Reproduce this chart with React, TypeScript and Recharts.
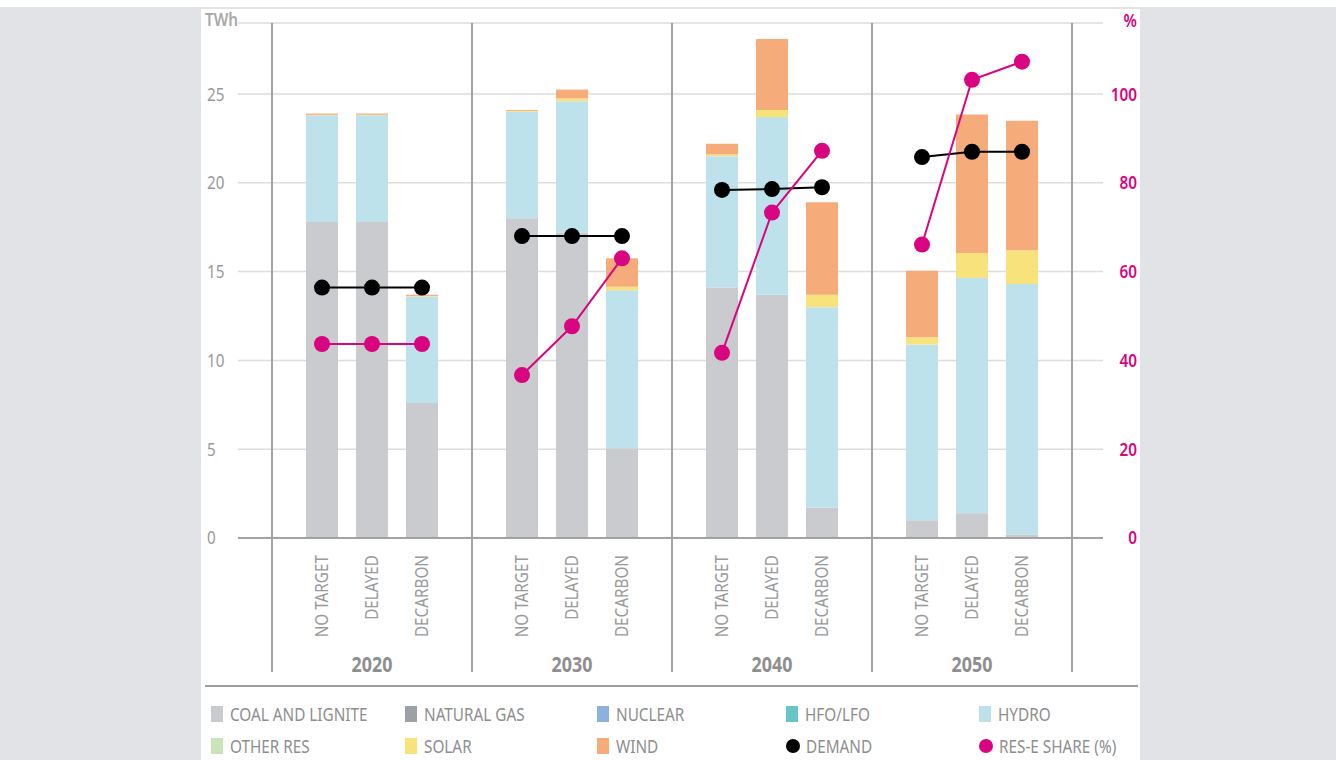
import React from 'react';
import { ComposedChart, Bar, Line, XAxis, YAxis, CartesianGrid } from 'recharts';

const years = ['2020', '2030', '2040', '2050'];
const scenarios = ['NO TARGET', 'DELAYED', 'DECARBON'];

// TWh per scenario, in order 2020 (NT, DEL, DEC), 2030 ..., 2050 ...
const coal = [17.8, 17.8, 7.6, 18.0, 17.2, 5.05, 14.1, 13.7, 1.7, 1.0, 1.4, 0.2];
const naturalGas = [0, 0, 0, 0, 0, 0, 0, 0, 0, 0, 0, 0];
const nuclear = [0, 0, 0, 0, 0, 0, 0, 0, 0, 0, 0, 0];
const hfoLfo = [0, 0, 0, 0, 0, 0, 0, 0, 0, 0, 0, 0];
const hydro = [6.0, 6.0, 6.0, 6.0, 7.4, 8.9, 7.4, 10.0, 11.3, 9.9, 13.25, 14.1];
const otherRes = [0, 0, 0, 0, 0, 0, 0, 0, 0, 0, 0, 0];
const solar = [0.03, 0.03, 0.03, 0.05, 0.15, 0.2, 0.1, 0.4, 0.7, 0.4, 1.4, 1.9];
const wind = [0.07, 0.07, 0.07, 0.05, 0.5, 1.6, 0.6, 4.0, 5.2, 3.75, 7.8, 7.3];
const demand = [14.1, 14.1, 14.1, 17.0, 17.0, 17.0, 19.6, 19.65, 19.75, 21.45, 21.75, 21.75];
const resShare = [43.7, 43.7, 43.7, 36.7, 47.7, 63.0, 41.7, 73.3, 87.2, 66.1, 103.2, 107.3];

const leftTicks = [0, 5, 10, 15, 20, 25];
const rightTicks = [0, 20, 40, 60, 80, 100];

const stackSeries = [
  { key: 'coal', label: 'COAL AND LIGNITE', color: '#c9cbce', values: coal },
  { key: 'gas', label: 'NATURAL GAS', color: '#9ba1a6', values: naturalGas },
  { key: 'nuclear', label: 'NUCLEAR', color: '#8db0df', values: nuclear },
  { key: 'hfo', label: 'HFO/LFO', color: '#6ac6c6', values: hfoLfo },
  { key: 'hydro', label: 'HYDRO', color: '#bde2ec', values: hydro },
  { key: 'other', label: 'OTHER RES', color: '#c9e6bb', values: otherRes },
  { key: 'solar', label: 'SOLAR', color: '#f8e27c', values: solar },
  { key: 'wind', label: 'WIND', color: '#f6ab7a', values: wind },
];

const DEMAND_COLOR = '#000000';
const RES_COLOR = '#d9047f';
const TEXT_GRAY = '#9a9a9a';
const LINE_GRAY = '#a3a3a3';
const FONT = "'Noto Sans', 'Open Sans', sans-serif";
const STRETCH = 'condensed';
// no condensed face is installed, so squeeze the glyphs a little instead
const SQUEEZE = 0.85;

// one row per bar, with an empty spacer row between the year groups
const rows: any[] = [];
years.forEach((year, g) => {
  if (g > 0) rows.push({ name: '', year, spacer: true });
  scenarios.forEach((s, k) => {
    const i = g * 3 + k;
    const row: any = { name: s, year, demand: demand[i], res: resShare[i] };
    stackSeries.forEach((ser) => (row[ser.key] = ser.values[i]));
    rows.push(row);
  });
});

const CHART_W = 1336;
const CHART_H = 680;
const TOP = 23;
const PLOT_LEFT = 238;
const PLOT_RIGHT = 1103;
const LEFT_AXIS_W = 30;
const RIGHT_AXIS_W = 40;
const PAD_L = 59;
const PAD_R = 56;
const BAND = (PLOT_RIGHT - PLOT_LEFT - PAD_L - PAD_R) / rows.length;

const sepLine = (x: number, y1: number, y2: number, key: string) => (
  <line key={key} x1={x} x2={x} y1={y1} y2={y2} stroke={LINE_GRAY} strokeWidth={2} />
);

const ScenarioTick = (props: any) => {
  const { x, y, index } = props;
  const row = rows[index];
  if (!row) return null;
  const parts: any[] = [];
  const bottom = y + 134;
  if (row.spacer) parts.push(sepLine(x, TOP, bottom, 's'));
  if (index === 0) parts.push(sepLine(x - BAND, TOP, bottom, 'l'));
  if (index === rows.length - 1) parts.push(sepLine(x + BAND, TOP, bottom, 'r'));
  if (!row.spacer) {
    parts.push(
      <text
        key="t"
        transform={`translate(${x},${y + 17}) rotate(-90) scale(${SQUEEZE},1)`}
        textAnchor="end"
        dy="0.36em"
        fill={TEXT_GRAY}
        style={{ fontFamily: FONT, fontStretch: STRETCH, fontSize: 18 }}
      >
        {row.name}
      </text>
    );
  }
  if (row.name === 'DELAYED') {
    parts.push(
      <text
        key="y"
        transform={`translate(${x},${y + 134}) scale(${SQUEEZE},1)`}
        textAnchor="middle"
        fill="#8e8e8e"
        style={{ fontFamily: FONT, fontStretch: STRETCH, fontSize: 21, fontWeight: 700 }}
      >
        {row.year}
      </text>
    );
  }
  return <g>{parts}</g>;
};

const LeftTick = (props: any) => (
  <text
    transform={`translate(${props.x - 31},${props.y}) scale(${SQUEEZE},1)`}
    dy="0.36em"
    textAnchor="start"
    fill={TEXT_GRAY}
    style={{ fontFamily: FONT, fontStretch: STRETCH, fontSize: 18 }}
  >
    {props.payload.value}
  </text>
);

const RightTick = (props: any) => (
  <text
    transform={`translate(${props.x + 34},${props.y}) scale(${SQUEEZE},1)`}
    dy="0.36em"
    textAnchor="end"
    fill={RES_COLOR}
    style={{ fontFamily: FONT, fontStretch: STRETCH, fontSize: 18, fontWeight: 600 }}
  >
    {props.payload.value}
  </text>
);

const legendItems = [
  ...stackSeries.map((s) => ({ label: s.label, color: s.color, dot: false })),
  { label: 'DEMAND', color: DEMAND_COLOR, dot: true },
  { label: 'RES-E SHARE (%)', color: RES_COLOR, dot: true },
];
const legendOrder = ['COAL AND LIGNITE', 'NATURAL GAS', 'NUCLEAR', 'HFO/LFO', 'HYDRO', 'OTHER RES', 'SOLAR', 'WIND', 'DEMAND', 'RES-E SHARE (%)'];
const legendCols = [211, 405, 597, 786, 979];

const App: React.FC = () => {
  return (
    <div style={{ position: 'absolute', left: 0, top: 0, width: 1336, height: 760, background: '#e2e3e7', overflow: 'hidden' }}>
      <div style={{ position: 'absolute', left: 0, top: 0, width: 1336, height: 7, background: '#ffffff' }} />
      <div style={{ position: 'absolute', left: 201, top: 9, width: 939, height: 751, background: '#ffffff' }} />
      <div style={{ position: 'absolute', left: 0, top: 0 }}>
        <ComposedChart
          width={CHART_W}
          height={CHART_H}
          data={rows}
          margin={{ top: TOP, right: CHART_W - PLOT_RIGHT - RIGHT_AXIS_W, bottom: 0, left: PLOT_LEFT - LEFT_AXIS_W }}
          barSize={32}
        >
          <CartesianGrid yAxisId="left" vertical={false} stroke="#dddddd" strokeWidth={1.5} />
          <XAxis
            dataKey="name"
            interval={0}
            height={CHART_H - 538}
            padding={{ left: PAD_L, right: PAD_R }}
            tickLine={false}
            tickSize={0}
            tickMargin={0}
            axisLine={{ stroke: LINE_GRAY, strokeWidth: 2 }}
            tick={<ScenarioTick />}
          />
          <YAxis
            yAxisId="left"
            width={LEFT_AXIS_W}
            domain={[0, 29]}
            ticks={leftTicks}
            axisLine={false}
            tickLine={false}
            tickSize={0}
            tickMargin={0}
            tick={<LeftTick />}
            label={{
              content: (p: any) => (
                <text
                  transform={`translate(${p.viewBox.x - 3},26) scale(${SQUEEZE},1)`}
                  fill="#a8a8a8"
                  style={{ fontFamily: FONT, fontStretch: STRETCH, fontSize: 18, fontWeight: 600 }}
                >
                  TWh
                </text>
              ),
            }}
          />
          <YAxis
            yAxisId="right"
            orientation="right"
            width={RIGHT_AXIS_W}
            domain={[0, 116]}
            ticks={rightTicks}
            axisLine={false}
            tickLine={false}
            tickSize={0}
            tickMargin={0}
            tick={<RightTick />}
            label={{
              content: (p: any) => (
                <text
                  transform={`translate(${p.viewBox.x + 34},27) scale(${SQUEEZE},1)`}
                  textAnchor="end"
                  fill={RES_COLOR}
                  style={{ fontFamily: FONT, fontStretch: STRETCH, fontSize: 18, fontWeight: 600 }}
                >
                  %
                </text>
              ),
            }}
          />
          {stackSeries.map((s) => (
            <Bar key={s.key} yAxisId="left" dataKey={s.key} stackId="a" fill={s.color} isAnimationActive={false} />
          ))}
          <Line
            yAxisId="left"
            dataKey="demand"
            type="linear"
            stroke={DEMAND_COLOR}
            strokeWidth={2}
            dot={{ r: 8, fill: DEMAND_COLOR, stroke: 'none' }}
            activeDot={false}
            isAnimationActive={false}
          />
          <Line
            yAxisId="right"
            dataKey="res"
            type="linear"
            stroke={RES_COLOR}
            strokeWidth={2}
            dot={{ r: 8, fill: RES_COLOR, stroke: 'none' }}
            activeDot={false}
            isAnimationActive={false}
          />
        </ComposedChart>
      </div>
      <div style={{ position: 'absolute', left: 205, top: 685, width: 933, height: 2, background: '#9d9d9d' }} />
      {legendOrder.map((label, i) => {
        const item = legendItems.find((l) => l.label === label)!;
        const left = legendCols[i % 5];
        const top = i < 5 ? 714 : 746;
        return (
          <div
            key={label}
            style={{
              position: 'absolute',
              left,
              top: top - 11,
              height: 22,
              display: 'flex',
              alignItems: 'center',
              fontFamily: FONT,
              fontStretch: STRETCH,
              fontSize: 18,
              color: '#8e8e8e',
              whiteSpace: 'nowrap',
            }}
          >
            {item.dot ? (
              <span style={{ width: 14, height: 14, borderRadius: 7, background: item.color, marginRight: 6 }} />
            ) : (
              <span style={{ width: 12, height: 16, background: item.color, marginRight: 7 }} />
            )}
            <span style={{ display: 'inline-block', transform: `scaleX(${SQUEEZE})`, transformOrigin: 'left center' }}>{label}</span>
          </div>
        );
      })}
    </div>
  );
};

export default App;
